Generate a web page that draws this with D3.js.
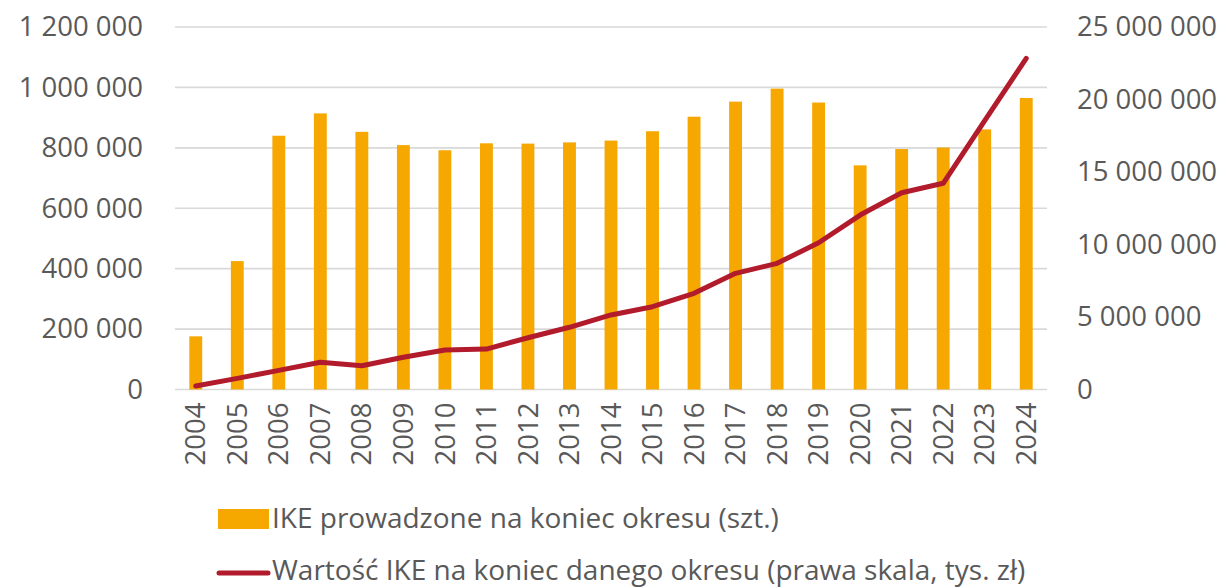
<!DOCTYPE html>
<html>
<head>
<meta charset="utf-8">
<script src="https://cdn.jsdelivr.net/npm/d3@7"></script>
<style>
  html, body { margin: 0; padding: 0; background: #fff; }
  svg text { font-family: "Open Sans", sans-serif; fill: #595959; }
</style>
</head>
<body>
<svg id="chart" width="1227" height="588"></svg>
<script>
// Years shown on the category axis
const years = ["2004","2005","2006","2007","2008","2009","2010","2011","2012","2013","2014",
               "2015","2016","2017","2018","2019","2020","2021","2022","2023","2024"];
// Number of IKE accounts at the end of the period (left axis)
const accounts = [176000, 425000, 840000, 914000, 853000, 809000, 792000, 815000, 814000, 818000, 824000,
                  855000, 903000, 953000, 996000, 950000, 742000, 796000, 801000, 861000, 965000];
// Value of IKE assets at the end of the period, thousand PLN (right axis)
const assets = [240000, 770000, 1320000, 1880000, 1640000, 2220000, 2720000, 2790000, 3570000, 4290000, 5140000,
                5710000, 6630000, 8010000, 8700000, 10120000, 12030000, 13570000, 14220000, 18550000, 22840000];
const leftTicks = [0, 200000, 400000, 600000, 800000, 1000000, 1200000];
const rightTicks = [0, 5000000, 10000000, 15000000, 20000000, 25000000];
const legendLabels = ["IKE prowadzone na koniec okresu (szt.)",
                      "Wartość IKE na koniec danego okresu (prawa skala, tys. zł)"];

const barColor = "#F6A700";
const lineColor = "#B21B2C";
const gridColor = "#D9D9D9";
const fontSize = 27.5;
const legendFontSize = 28;

const svg = d3.select("#chart");
const plot = { left: 175, right: 1047, top: 27, bottom: 389.5 };

const x = d3.scaleBand().domain(years).range([plot.left, plot.right]).paddingInner(0.69).paddingOuter(0.345);
const yL = d3.scaleLinear().domain([0, 1200000]).range([plot.bottom, plot.top]);
const yR = d3.scaleLinear().domain([0, 25000000]).range([plot.bottom, plot.top]);

const fmt = v => d3.format(",")(v).replace(/,/g, " ");

// Horizontal gridlines from the left axis
svg.append("g")
  .selectAll("line")
  .data(leftTicks)
  .join("line")
  .attr("x1", plot.left).attr("x2", plot.right)
  .attr("y1", d => yL(d)).attr("y2", d => yL(d))
  .attr("stroke", gridColor).attr("stroke-width", 1.6);

// Left axis labels
const leftAxis = d3.axisLeft(yL).tickValues(leftTicks).tickFormat(fmt).tickSize(0).tickPadding(0);
const gL = svg.append("g").attr("transform", `translate(${plot.left - 32},0)`).call(leftAxis);
gL.select(".domain").remove();
gL.selectAll("text").attr("font-size", fontSize).attr("font-family", null).attr("fill", "#595959");

// Right axis labels
const rightAxis = d3.axisRight(yR).tickValues(rightTicks).tickFormat(fmt).tickSize(0).tickPadding(0);
const gR = svg.append("g").attr("transform", `translate(${plot.right + 30},0)`).call(rightAxis);
gR.select(".domain").remove();
gR.selectAll("text").attr("font-size", fontSize).attr("font-family", null).attr("fill", "#595959");

// Bars
svg.append("g")
  .selectAll("rect")
  .data(years)
  .join("rect")
  .attr("x", (d) => x(d))
  .attr("width", x.bandwidth())
  .attr("y", (d, i) => yL(accounts[i]))
  .attr("height", (d, i) => yL(0) - yL(accounts[i]))
  .attr("fill", barColor);

// Asset value line
const line = d3.line()
  .x((d, i) => x(years[i]) + x.bandwidth() / 2)
  .y(d => yR(d));
svg.append("path")
  .datum(assets)
  .attr("d", line)
  .attr("fill", "none")
  .attr("stroke", lineColor)
  .attr("stroke-width", 5)
  .attr("stroke-linejoin", "round")
  .attr("stroke-linecap", "round");

// Category axis: rotated year labels
const xAxis = d3.axisBottom(x).tickSize(0).tickPadding(0);
const gX = svg.append("g").attr("transform", `translate(0,${plot.bottom})`).call(xAxis);
gX.select(".domain").remove();
gX.selectAll("text")
  .attr("font-size", fontSize)
  .attr("font-family", null)
  .attr("fill", "#595959")
  .attr("transform", "rotate(-90)")
  .attr("text-anchor", "end")
  .attr("x", -13)
  .attr("y", 0)
  .attr("dy", "0.35em");

// Legend
const legend = svg.append("g");
legend.append("rect")
  .attr("x", 218).attr("y", 509).attr("width", 51).attr("height", 20)
  .attr("fill", barColor);
legend.append("text")
  .attr("x", 272).attr("y", 518).attr("dy", "0.35em")
  .attr("font-size", legendFontSize)
  .text(legendLabels[0]);
legend.append("line")
  .attr("x1", 219).attr("x2", 268).attr("y1", 573).attr("y2", 573)
  .attr("stroke", lineColor).attr("stroke-width", 5).attr("stroke-linecap", "round");
legend.append("text")
  .attr("x", 272).attr("y", 570).attr("dy", "0.35em")
  .attr("font-size", legendFontSize)
  .text(legendLabels[1]);
</script>
</body>
</html>
